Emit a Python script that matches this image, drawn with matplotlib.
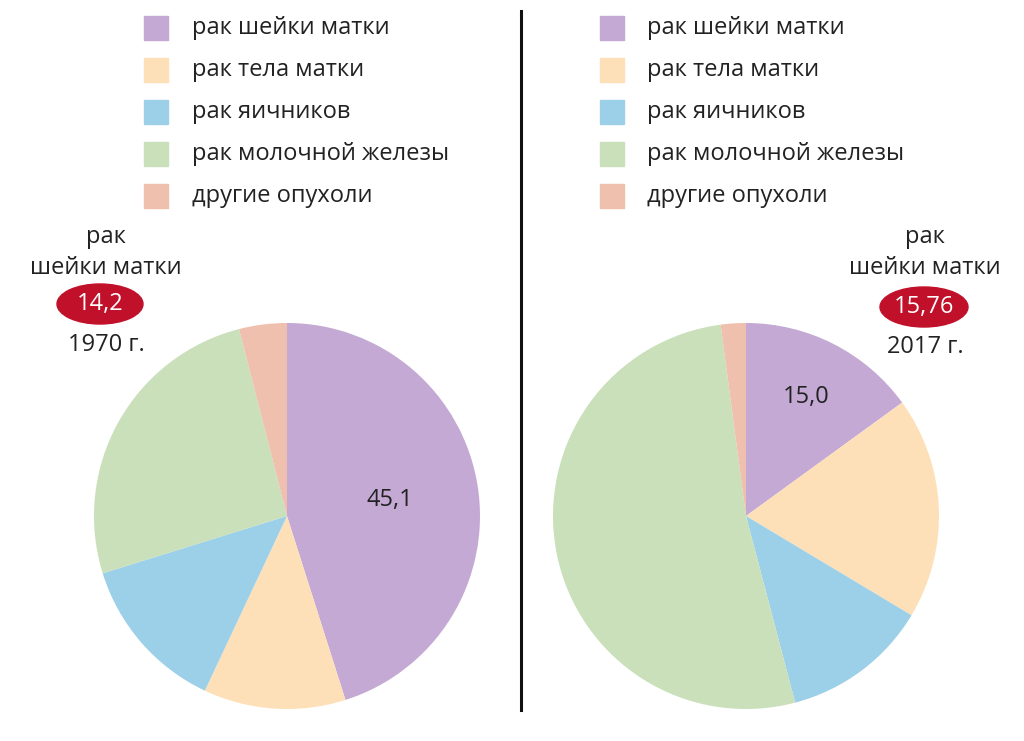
import matplotlib.pyplot as plt
from matplotlib.patches import Ellipse, Rectangle

plt.rcParams['font.family'] = ['Open Sans', 'DejaVu Sans']

categories = ['рак шейки матки', 'рак тела матки', 'рак яичников',
              'рак молочной железы', 'другие опухоли']
colors = ['#c3a9d3', '#fde0b8', '#9ccfe8', '#c9e0bb', '#efc0ad']

shares_1970 = [45.1, 11.9, 13.2, 25.8, 4.0]
shares_2017 = [15.0, 18.6, 12.3, 52.0, 2.1]
labels_1970 = ['45,1', '', '', '', '']
labels_2017 = ['15,0', '', '', '', '']

years = ['1970 г.', '2017 г.']
cervix_rate = ['14,2', '15,76']

W, H = 1024, 741
fig = plt.figure(figsize=(W / 100, H / 100), dpi=100)
fig.patch.set_facecolor('white')

def fx(x):
    return x / W

def fy(y):
    return 1 - y / H

def draw_pie(cx, cy, r, values, labels, lab_r):
    ax = fig.add_axes([fx(cx - r), fy(cy + r), 2 * r / W, 2 * r / H])
    wedges, texts = ax.pie(values, colors=colors, startangle=90, counterclock=False,
                           radius=1, labels=labels, labeldistance=lab_r,
                           textprops=dict(fontsize=17, color='#222222'))
    for t in texts:
        t.set_ha('center')
        t.set_va('center')
    ax.set_xlim(-1, 1)
    ax.set_ylim(-1, 1)
    ax.set_aspect('auto')
    ax.axis('off')
    return ax

draw_pie(287, 516, 193, shares_1970, labels_1970, 0.54)
draw_pie(746, 516, 193, shares_2017, labels_2017, 0.69)

# legends
for lx, tx in [(144, 192), (600, 647)]:
    for i, (cat, col) in enumerate(zip(categories, colors)):
        y = 28 + i * 42
        fig.patches.append(Rectangle((fx(lx), fy(y + 12)), 24 / W, 24 / H,
                                     transform=fig.transFigure, color=col))
        fig.text(fx(tx), fy(y), cat, fontsize=17, color='#222222',
                 va='center', ha='left')

# divider
fig.add_artist(plt.Line2D([fx(521), fx(521)], [fy(11), fy(710)],
                          color='#111111', lw=2.2, transform=fig.transFigure))

# annotations
for cx, ex, ey, ew, yr, rate, yrl in [(106, 100, 304, 86, 345, cervix_rate[0], years[0]),
                                      (925, 924, 307, 88, 347, cervix_rate[1], years[1])]:
    fig.text(fx(cx), fy(237), 'рак', fontsize=17, color='#222222', ha='center', va='center')
    fig.text(fx(cx), fy(268), 'шейки матки', fontsize=17, color='#222222', ha='center', va='center')
    fig.patches.append(Ellipse((fx(ex), fy(ey)), ew / W, 40 / H,
                               transform=fig.transFigure, color='#c0102a'))
    fig.text(fx(ex), fy(ey), rate, fontsize=17, color='white', ha='center', va='center')
    fig.text(fx(cx), fy(yr), yrl, fontsize=17, color='#222222', ha='center', va='center')

fig.savefig('out.png', dpi=100, facecolor='white')
